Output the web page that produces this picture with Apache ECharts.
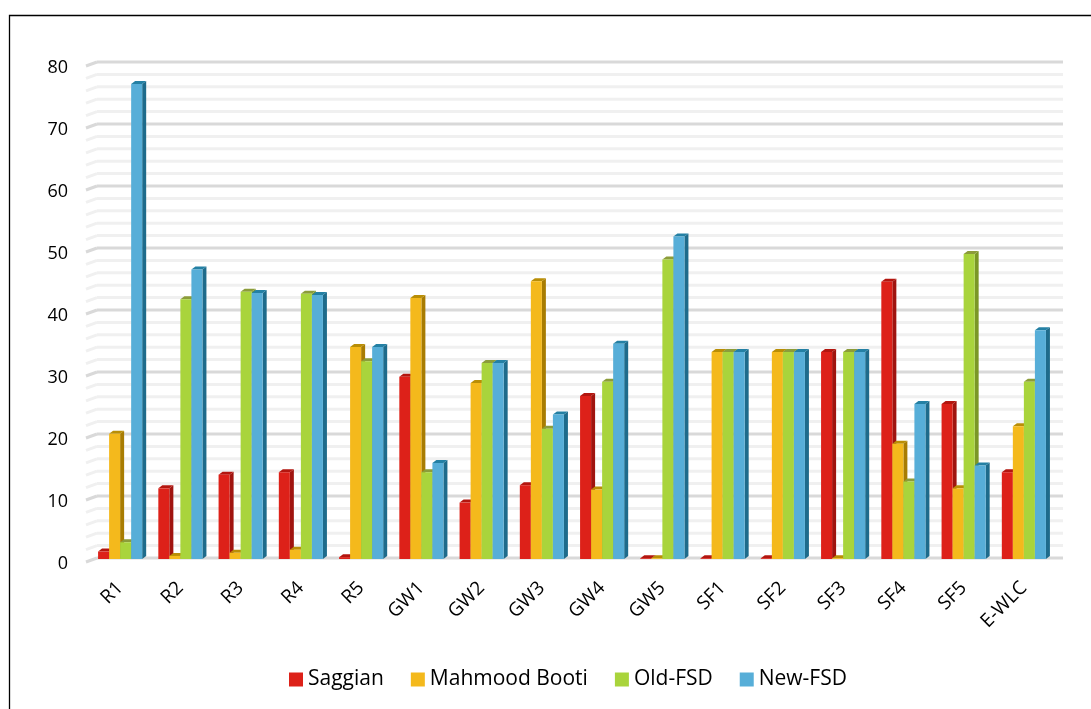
<!DOCTYPE html>
<html>
<head>
<meta charset="utf-8">
<script src="https://cdn.jsdelivr.net/npm/echarts@6/dist/echarts.min.js"></script>
<style>
html,body{margin:0;padding:0;background:#fff;}
#c{width:1091px;height:709px;}
</style>
</head>
<body>
<div id="c"></div>
<script>
const categories = ['R1','R2','R3','R4','R5','GW1','GW2','GW3','GW4','GW5','SF1','SF2','SF3','SF4','SF5','E-WLC'];
const saggian      = [1.2, 11.4, 13.6, 14.0, 0.3, 29.4, 9.1, 11.9, 26.3, 0.1, 0.1, 0.1, 33.4, 44.7, 25.0, 14.0];
const mahmoodBooti = [20.2, 0.5, 1.0, 1.5, 34.2, 42.1, 28.4, 44.8, 11.2, 0.1, 33.4, 33.4, 0.1, 18.6, 11.4, 21.4];
const oldFSD       = [2.7, 41.9, 43.1, 42.8, 31.9, 14.0, 31.6, 21.0, 28.6, 48.3, 33.4, 33.4, 33.4, 12.5, 49.2, 28.6];
const newFSD       = [76.6, 46.7, 42.9, 42.6, 34.2, 15.5, 31.6, 23.3, 34.7, 52.0, 33.4, 33.4, 33.4, 25.0, 15.1, 36.9];
const seriesNames  = ['Saggian', 'Mahmood Booti', 'Old-FSD', 'New-FSD'];
const yTicks = { min: 0, max: 80, interval: 10, minorStep: 2 };

const palette = [
  { front: '#dd2119', side: '#a0140f', top: '#b3160f' },
  { front: '#f4b91c', side: '#a87c02', top: '#b98e06' },
  { front: '#a9d43c', side: '#7b9726', top: '#8c9c3a' },
  { front: '#57aed8', side: '#1e6b8b', top: '#2480a4' }
];
const FONT = '"Open Sans", "Noto Sans", sans-serif';

function makeRender(si) {
  const col = palette[si];
  return function (params, api) {
    const xi = api.value(0), v = api.value(1);
    const top = api.coord([xi, v]);
    const base = api.coord([xi, 0]);
    const band = api.size([1, 0])[0];
    const w = band * 0.183;
    const dx = 4, dy = 3;
    const x0 = top[0] - 2 * w + si * w;
    let ty = top[1];
    if (base[1] - ty < 0.8) ty = base[1] - 0.8;
    const by = base[1];
    return {
      type: 'group',
      children: [
        { type: 'polygon', shape: { points: [[x0 + w, ty], [x0 + w + dx, ty - dy], [x0 + w + dx, by - dy], [x0 + w, by]] }, style: { fill: col.side } },
        { type: 'polygon', shape: { points: [[x0, ty], [x0 + dx, ty - dy], [x0 + w + dx, ty - dy], [x0 + w, ty]] }, style: { fill: col.top } },
        { type: 'rect', shape: { x: x0, y: ty, width: w, height: by - ty }, style: { fill: col.front } }
      ]
    };
  };
}

const allValues = [saggian, mahmoodBooti, oldFSD, newFSD];
const chart = echarts.init(document.getElementById('c'), null, { renderer: 'canvas' });

const option = {
  animation: false,
  backgroundColor: '#fff',
  grid: { left: 90, right: 37, top: 63, bottom: 150 },
  legend: {
    data: seriesNames,
    top: 664,
    left: 284,
    icon: 'rect',
    itemWidth: 14,
    itemHeight: 14,
    itemGap: 27,
    textStyle: { fontFamily: FONT, fontSize: 21, color: '#000' }
  },
  xAxis: {
    type: 'category',
    data: categories,
    axisLine: { show: false },
    axisTick: { show: false },
    axisLabel: { rotate: 45, margin: 26, fontFamily: FONT, fontSize: 19, color: '#000', interval: 0 }
  },
  yAxis: {
    type: 'value',
    min: yTicks.min, max: yTicks.max, interval: yTicks.interval,
    axisLine: { show: false },
    axisTick: { show: false },
    splitLine: { show: false },
    axisLabel: { fontFamily: FONT, fontSize: 18, color: '#000', margin: 22, verticalAlign: 'top', lineHeight: 10 }
  },
  series: seriesNames.map((name, si) => ({
    type: 'custom',
    name: name,
    itemStyle: { color: palette[si].front },
    renderItem: makeRender(si),
    encode: { x: 0, y: 1 },
    data: allValues[si].map((v, i) => [i, v]),
    z: 5
  }))
};
chart.setOption(option);

// 3D back-wall grid lines, positioned through the value axis scale
const rect = chart.getModel().getComponent('grid', 0).coordinateSystem.getRect();
const lines = [];
for (let v = yTicks.min; v <= yTicks.max + 1e-9; v += yTicks.minorStep) {
  const y = chart.convertToPixel({ yAxisIndex: 0 }, v) - 1;
  const major = Math.abs(v % yTicks.interval) < 1e-9;
  const color = major ? '#d9d9d9' : '#f0f0f0';
  lines.push({ type: 'line', silent: true, z: 0,
    shape: { x1: rect.x + 7, y1: y, x2: rect.x + rect.width + 9, y2: y },
    style: { stroke: color, lineWidth: 3 } });
  lines.push({ type: 'line', silent: true, z: 0,
    shape: { x1: rect.x - 4, y1: y + 4, x2: rect.x + 7, y2: y },
    style: { stroke: color, lineWidth: 3 } });
}
lines.push({ type: 'rect', silent: true, z: 10,
  shape: { x: 9.5, y: 15.5, width: 1200, height: 800 },
  style: { fill: null, stroke: '#000', lineWidth: 1.3 } });
chart.setOption({ graphic: { elements: lines } });
</script>
</body>
</html>
